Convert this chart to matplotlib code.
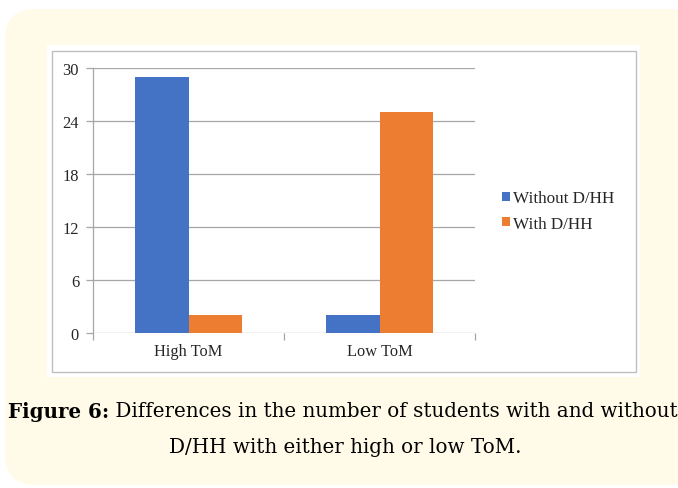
import matplotlib.pyplot as plt
from matplotlib.patches import FancyBboxPatch, Rectangle
import numpy as np

categories = ["High ToM", "Low ToM"]
series_names = ["Without D/HH", "With D/HH"]
without_dhh = [29, 2]
with_dhh = [2, 25]
y_ticks = [0, 6, 12, 18, 24, 30]
caption_bold = "Figure 6:"
caption_rest = " Differences in the number of students with and without"
caption_line2 = "D/HH with either high or low ToM."

W, H = 678, 489
BLUE = "#4472c4"
ORANGE = "#ed7d31"
CREAM = "#fffbe8"
TXT = "#262626"

fig = plt.figure(figsize=(W / 100, H / 100), dpi=100)
fig.patch.set_facecolor("white")


def fx(px):
    return px / W


def fy(py):
    return 1 - py / H


# cream rounded card
card = FancyBboxPatch((fx(5), fy(486)), fx(700) - fx(5), fy(10) - fy(486),
                      boxstyle="round,pad=0,rounding_size=0.045",
                      transform=fig.transFigure, facecolor=CREAM,
                      edgecolor="none", zorder=0, mutation_aspect=W / H)
fig.patches.append(card)

# white panel and gray frame
fig.patches.append(Rectangle((fx(47), fy(378)), fx(640) - fx(47), fy(46) - fy(378),
                             transform=fig.transFigure, facecolor="white",
                             edgecolor="none", zorder=1))
fig.patches.append(Rectangle((fx(52), fy(373)), fx(636) - fx(52), fy(52) - fy(373),
                             transform=fig.transFigure, facecolor="none",
                             edgecolor="#bfbfbf", linewidth=1.0, zorder=2))

ax = fig.add_axes([fx(93), fy(334), fx(475) - fx(93), fy(69) - fy(334)])
ax.set_facecolor("none")
ax.set_zorder(3)

x = np.arange(len(categories))
bw = 0.28
ax.bar(x - bw / 2, without_dhh, bw, color=BLUE, label=series_names[0], zorder=3)
ax.bar(x + bw / 2, with_dhh, bw, color=ORANGE, label=series_names[1], zorder=3)

ax.set_xlim(-0.5, 1.5)
ax.set_ylim(0, 30)
ax.set_yticks(y_ticks)
ax.yaxis.grid(True, color="#a6a6a6", linewidth=0.9, zorder=0)
ax.set_axisbelow(True)
for side in ["top", "right", "bottom"]:
    ax.spines[side].set_visible(False)
ax.spines["left"].set_color("#a6a6a6")
ax.spines["left"].set_linewidth(0.9)

ax.set_xticks([-0.5, 0.5, 1.5], minor=False)
ax.set_xticklabels([])
ax.set_xticks(x, minor=True)
ax.set_xticklabels(categories, minor=True)
ax.tick_params(axis="x", which="major", length=5, color="#a6a6a6", width=0.9)
ax.tick_params(axis="x", which="minor", length=0, pad=7)
ax.tick_params(axis="y", length=5, color="#a6a6a6", width=0.9, pad=5)
for lab in ax.get_xticklabels(minor=True) + ax.get_yticklabels():
    lab.set_fontfamily("Liberation Serif")
    lab.set_fontsize(11.8)
    lab.set_color(TXT)

leg = fig.legend(loc="center left", bbox_to_anchor=(fx(487), fy(212)),
                 frameon=False, handlelength=0.42, handleheight=0.42,
                 handletextpad=0.2, labelspacing=0.55,
                 prop={"family": "Liberation Serif", "size": 12.3})
for t in leg.get_texts():
    t.set_color(TXT)

# caption: scale font so line 1 spans the card width like the reference
cap_font = "DejaVu Serif"
base = 12.0
renderer = fig.canvas.get_renderer()
probe_b = fig.text(0, 0, caption_bold, fontsize=base, fontweight="bold", family=cap_font)
probe_r = fig.text(0, 0, caption_rest, fontsize=base, family=cap_font)
wb = probe_b.get_window_extent(renderer).width
wr = probe_r.get_window_extent(renderer).width
probe_b.remove()
probe_r.remove()
cap_size = base * 666 / (wb + wr)

t1 = fig.text(fx(8), fy(412), caption_bold, fontsize=cap_size, fontweight="bold",
              family=cap_font, va="center", ha="left", color="black")
bb = t1.get_window_extent(renderer)
fig.text(bb.x1 / W, fy(412), caption_rest, fontsize=cap_size, family=cap_font,
         va="center", ha="left", color="black")
fig.text(fx(345), fy(448), caption_line2, fontsize=cap_size, family=cap_font,
         va="center", ha="center", color="black")

fig.savefig("out.png", dpi=100)
